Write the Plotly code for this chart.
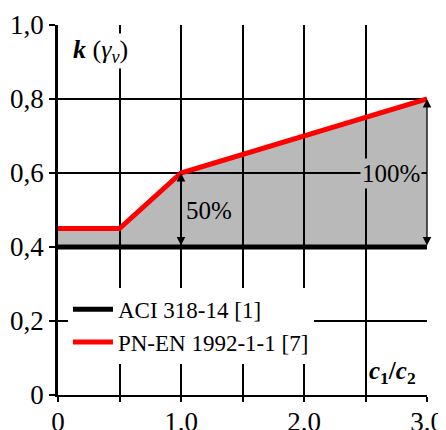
import plotly.graph_objects as go

# Data
x_aci = [0.0, 3.0]
y_aci = [0.4, 0.4]
x_pn = [0.0, 0.5, 1.0, 3.0]
y_pn = [0.45, 0.45, 0.6, 0.8]

x_tickvals = [0, 1.0, 2.0, 3.0]
x_ticktext = ["0", "1.0", "2.0", "3.0"]
y_tickvals = [0, 0.2, 0.4, 0.6, 0.8, 1.0]
y_ticktext = ["0", "0,2", "0,4", "0,6", "0,8", "1,0"]

arrow_x = [1.0, 3.0]
arrow_labels = ["50%", "100%"]

GRAY = "#b9b9b9"
FONT = "Liberation Serif"
base = y_aci[0]

fig = go.Figure()

# Gray area (below grid) built from data
path = f"M {x_pn[0]},{base} " + " ".join(f"L {x},{y}" for x, y in zip(x_pn, y_pn)) + f" L {x_pn[-1]},{base} Z"
fig.add_shape(type="path", path=path, xref="x", yref="y", layer="below",
              fillcolor=GRAY, line=dict(width=0))

fig.add_trace(go.Scatter(x=x_aci, y=y_aci, mode="lines", name="ACI 318-14 [1]",
                         line=dict(color="black", width=5)))
fig.add_trace(go.Scatter(x=x_pn, y=y_pn, mode="lines", name="PN-EN 1992-1-1 [7]",
                         line=dict(color="red", width=5)))

# Arrows
for xa, lab in zip(arrow_x, arrow_labels):
    ytop = None
    for i in range(len(x_pn) - 1):
        if x_pn[i] <= xa <= x_pn[i + 1]:
            t = (xa - x_pn[i]) / (x_pn[i + 1] - x_pn[i])
            ytop = y_pn[i] + t * (y_pn[i + 1] - y_pn[i])
    fig.add_annotation(x=xa, y=ytop, ax=xa, ay=base, xref="x", yref="y", axref="x", ayref="y",
                       text="", showarrow=True, arrowhead=2, arrowside="end+start",
                       arrowsize=1.3, arrowwidth=1.3, arrowcolor="black")

fig.add_annotation(x=1.0, y=0.5, xref="x", yref="y", text="50%", showarrow=False,
                   xanchor="left", xshift=3, font=dict(family=FONT, size=25, color="black"))
fig.add_annotation(x=3.0, y=0.6, xref="x", yref="y", text="100%", showarrow=False,
                   xanchor="right", xshift=-5, bgcolor=GRAY,
                   font=dict(family=FONT, size=25, color="black"))

fig.add_annotation(x=0.035, y=0.93, xref="paper", yref="paper", xanchor="left", yanchor="middle",
                   text="<b><i>k</i></b> (<i>γ<sub>v</sub></i>)", showarrow=False, bgcolor="white",
                   font=dict(family=FONT, size=26, color="black"))
fig.add_annotation(x=0.975, y=0.06, xref="paper", yref="paper", xanchor="right", yanchor="middle",
                   text="<b><i>c</i><sub>1</sub>/<i>c</i><sub>2</sub></b>", showarrow=False, bgcolor="white",
                   font=dict(family=FONT, size=25, color="black"))

# The page body has an 8px default margin, so the figure is shrunk to compensate.
fig.update_layout(
    width=438, height=422,
    margin=dict(l=50, r=19, t=17, b=35, autoexpand=False),
    paper_bgcolor="white", plot_bgcolor="rgba(0,0,0,0)",
    font=dict(family=FONT, size=27, color="black"),
    showlegend=True,
    legend=dict(x=0.027, y=0.29, xanchor="left", yanchor="top", bgcolor="white",
                font=dict(family=FONT, size=23, color="black"), itemwidth=40,
                tracegroupgap=0),
)
fig.update_xaxes(range=[0, 3.0], tickvals=x_tickvals, ticktext=x_ticktext,
                 showgrid=True, gridcolor="black", gridwidth=1.5, automargin=False,
                 minor=dict(dtick=0.5, showgrid=True, gridcolor="black", gridwidth=1.5,
                            ticks="outside", ticklen=5, tickwidth=1.5, tickcolor="black"),
                 showline=True, linecolor="black", linewidth=2,
                 ticks="outside", ticklen=5, tickwidth=1.5, tickcolor="black",
                 ticklabelstandoff=-3,
                 zeroline=False, tickfont=dict(family=FONT, size=27, color="black"))
fig.update_yaxes(range=[0, 1.0], tickvals=y_tickvals, ticktext=y_ticktext,
                 showgrid=True, gridcolor="black", gridwidth=1.5, automargin=False,
                 showline=True, linecolor="black", linewidth=2.5,
                 ticks="outside", ticklen=6, tickwidth=1.5, tickcolor="black",
                 zeroline=False, tickfont=dict(family=FONT, size=27, color="black"))

fig.write_html("out.html")
